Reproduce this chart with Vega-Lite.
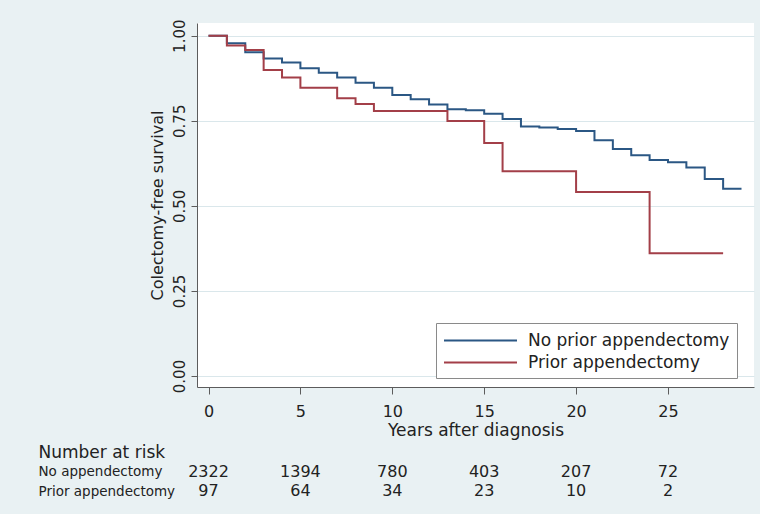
{
  "$schema": "https://vega.github.io/schema/vega-lite/v6.json",
  "width": 557,
  "height": 364,
  "autosize": {"type": "none"},
  "padding": {"left": 197, "top": 23, "right": 6, "bottom": 127},
  "background": "#e9f1f3",
  "config": {
    "font": "DejaVu Sans",
    "view": {"fill": "white", "stroke": null},
    "axis": {
      "labelFont": "DejaVu Sans",
      "titleFont": "DejaVu Sans",
      "labelColor": "#222222",
      "titleColor": "#222222",
      "titleFontWeight": "normal",
      "domainColor": "#5c5c5c",
      "tickColor": "#5c5c5c",
      "gridColor": "#dae7eb",
      "gridWidth": 1
    },
    "text": {"font": "DejaVu Sans"}
  },
  "datasets": {
    "survival": [
      {"years": 0, "survival": 1.0, "group": "No prior appendectomy"},
      {"years": 1, "survival": 0.978, "group": "No prior appendectomy"},
      {"years": 2, "survival": 0.951, "group": "No prior appendectomy"},
      {"years": 3, "survival": 0.933, "group": "No prior appendectomy"},
      {"years": 4, "survival": 0.921, "group": "No prior appendectomy"},
      {"years": 5, "survival": 0.904, "group": "No prior appendectomy"},
      {"years": 6, "survival": 0.891, "group": "No prior appendectomy"},
      {"years": 7, "survival": 0.877, "group": "No prior appendectomy"},
      {"years": 8, "survival": 0.862, "group": "No prior appendectomy"},
      {"years": 9, "survival": 0.847, "group": "No prior appendectomy"},
      {"years": 10, "survival": 0.826, "group": "No prior appendectomy"},
      {"years": 11, "survival": 0.813, "group": "No prior appendectomy"},
      {"years": 12, "survival": 0.798, "group": "No prior appendectomy"},
      {"years": 13, "survival": 0.784, "group": "No prior appendectomy"},
      {"years": 14, "survival": 0.781, "group": "No prior appendectomy"},
      {"years": 15, "survival": 0.771, "group": "No prior appendectomy"},
      {"years": 16, "survival": 0.755, "group": "No prior appendectomy"},
      {"years": 17, "survival": 0.733, "group": "No prior appendectomy"},
      {"years": 18, "survival": 0.730, "group": "No prior appendectomy"},
      {"years": 19, "survival": 0.726, "group": "No prior appendectomy"},
      {"years": 20, "survival": 0.720, "group": "No prior appendectomy"},
      {"years": 21, "survival": 0.693, "group": "No prior appendectomy"},
      {"years": 22, "survival": 0.667, "group": "No prior appendectomy"},
      {"years": 23, "survival": 0.649, "group": "No prior appendectomy"},
      {"years": 24, "survival": 0.635, "group": "No prior appendectomy"},
      {"years": 25, "survival": 0.628, "group": "No prior appendectomy"},
      {"years": 26, "survival": 0.613, "group": "No prior appendectomy"},
      {"years": 27, "survival": 0.579, "group": "No prior appendectomy"},
      {"years": 28, "survival": 0.550, "group": "No prior appendectomy"},
      {"years": 29, "survival": 0.550, "group": "No prior appendectomy"},
      {"years": 0, "survival": 1.0, "group": "Prior appendectomy"},
      {"years": 1, "survival": 0.971, "group": "Prior appendectomy"},
      {"years": 2, "survival": 0.958, "group": "Prior appendectomy"},
      {"years": 3, "survival": 0.899, "group": "Prior appendectomy"},
      {"years": 4, "survival": 0.877, "group": "Prior appendectomy"},
      {"years": 5, "survival": 0.847, "group": "Prior appendectomy"},
      {"years": 7, "survival": 0.816, "group": "Prior appendectomy"},
      {"years": 8, "survival": 0.799, "group": "Prior appendectomy"},
      {"years": 9, "survival": 0.779, "group": "Prior appendectomy"},
      {"years": 13, "survival": 0.749, "group": "Prior appendectomy"},
      {"years": 15, "survival": 0.685, "group": "Prior appendectomy"},
      {"years": 16, "survival": 0.602, "group": "Prior appendectomy"},
      {"years": 20, "survival": 0.541, "group": "Prior appendectomy"},
      {"years": 24, "survival": 0.361, "group": "Prior appendectomy"},
      {"years": 28, "survival": 0.361, "group": "Prior appendectomy"}
    ],
    "risk": [
      {"years": 0, "row": "No appendectomy", "n": 2322},
      {"years": 5, "row": "No appendectomy", "n": 1394},
      {"years": 10, "row": "No appendectomy", "n": 780},
      {"years": 15, "row": "No appendectomy", "n": 403},
      {"years": 20, "row": "No appendectomy", "n": 207},
      {"years": 25, "row": "No appendectomy", "n": 72},
      {"years": 0, "row": "Prior appendectomy", "n": 97},
      {"years": 5, "row": "Prior appendectomy", "n": 64},
      {"years": 10, "row": "Prior appendectomy", "n": 34},
      {"years": 15, "row": "Prior appendectomy", "n": 23},
      {"years": 20, "row": "Prior appendectomy", "n": 10},
      {"years": 25, "row": "Prior appendectomy", "n": 2}
    ]
  },
  "layer": [
    {
      "data": {"name": "survival"},
      "mark": {"type": "line", "interpolate": "step-after", "strokeWidth": 2},
      "encoding": {
        "x": {
          "field": "years",
          "type": "quantitative",
          "scale": {"domain": [-0.626, 29.68], "nice": false, "zero": false},
          "axis": {
            "values": [0, 5, 10, 15, 20, 25],
            "grid": false,
            "tickSize": 7,
            "labelPadding": 9.5,
            "labelFontSize": 16,
            "title": "Years after diagnosis",
            "titleFontSize": 17,
            "titleBaseline": "top",
            "titleY": 35
          }
        },
        "y": {
          "field": "survival",
          "type": "quantitative",
          "scale": {"domain": [-0.0323, 1.0373], "nice": false, "zero": false},
          "axis": {
            "orient": "left",
            "values": [0, 0.25, 0.5, 0.75, 1],
            "format": ".2f",
            "grid": true,
            "tickSize": 6,
            "labelAngle": -90,
            "labelAlign": "center",
            "labelBaseline": "alphabetic",
            "labelPadding": 7,
            "labelFontSize": 15,
            "title": "Colectomy-free survival",
            "titleFontSize": 16,
            "titleAngle": 270,
            "titleAlign": "center",
            "titleBaseline": "bottom",
            "titleX": -32,
            "titleY": 182
          }
        },
        "color": {
          "field": "group",
          "type": "nominal",
          "scale": {
            "domain": ["No prior appendectomy", "Prior appendectomy"],
            "range": ["#2b5784", "#a33f48"]
          },
          "legend": {
            "orient": "none",
            "legendX": 239,
            "legendY": 300,
            "title": null,
            "direction": "vertical",
            "fillColor": "white",
            "strokeColor": "#8a8a8a",
            "padding": 7,
            "symbolType": "M-4,0H4",
            "symbolSize": 333,
            "symbolStrokeWidth": 2,
            "symbolOffset": 27,
            "labelOffset": 37,
            "labelFontSize": 17,
            "labelFont": "DejaVu Sans",
            "labelColor": "#222222",
            "labelLimit": 400,
            "rowPadding": 3
          }
        }
      }
    },
    {
      "data": {"name": "risk"},
      "mark": {"type": "text", "fontSize": 16, "align": "center", "baseline": "middle", "color": "#222222"},
      "encoding": {
        "x": {
          "field": "years",
          "type": "quantitative",
          "scale": {"domain": [-0.626, 29.68], "nice": false, "zero": false}
        },
        "y": {
          "field": "row",
          "type": "ordinal",
          "scale": {
            "type": "point",
            "domain": ["Number at risk", "No appendectomy", "Prior appendectomy"],
            "range": [429, 468],
            "padding": 0
          },
          "axis": {
            "orient": "left",
            "domain": false,
            "ticks": false,
            "tickSize": 0,
            "grid": false,
            "title": null,
            "labelAlign": "left",
            "labelBaseline": "middle",
            "labelPadding": 159,
            "labelLimit": 300,
            "labelColor": "#222222",
            "labelFontSize": {"condition": {"test": "datum.value === 'Number at risk'", "value": 17}, "value": 13.5}
          }
        },
        "text": {"field": "n", "type": "quantitative", "format": "d"}
      }
    }
  ],
  "resolve": {"scale": {"y": "independent"}, "axis": {"y": "independent"}}
}
